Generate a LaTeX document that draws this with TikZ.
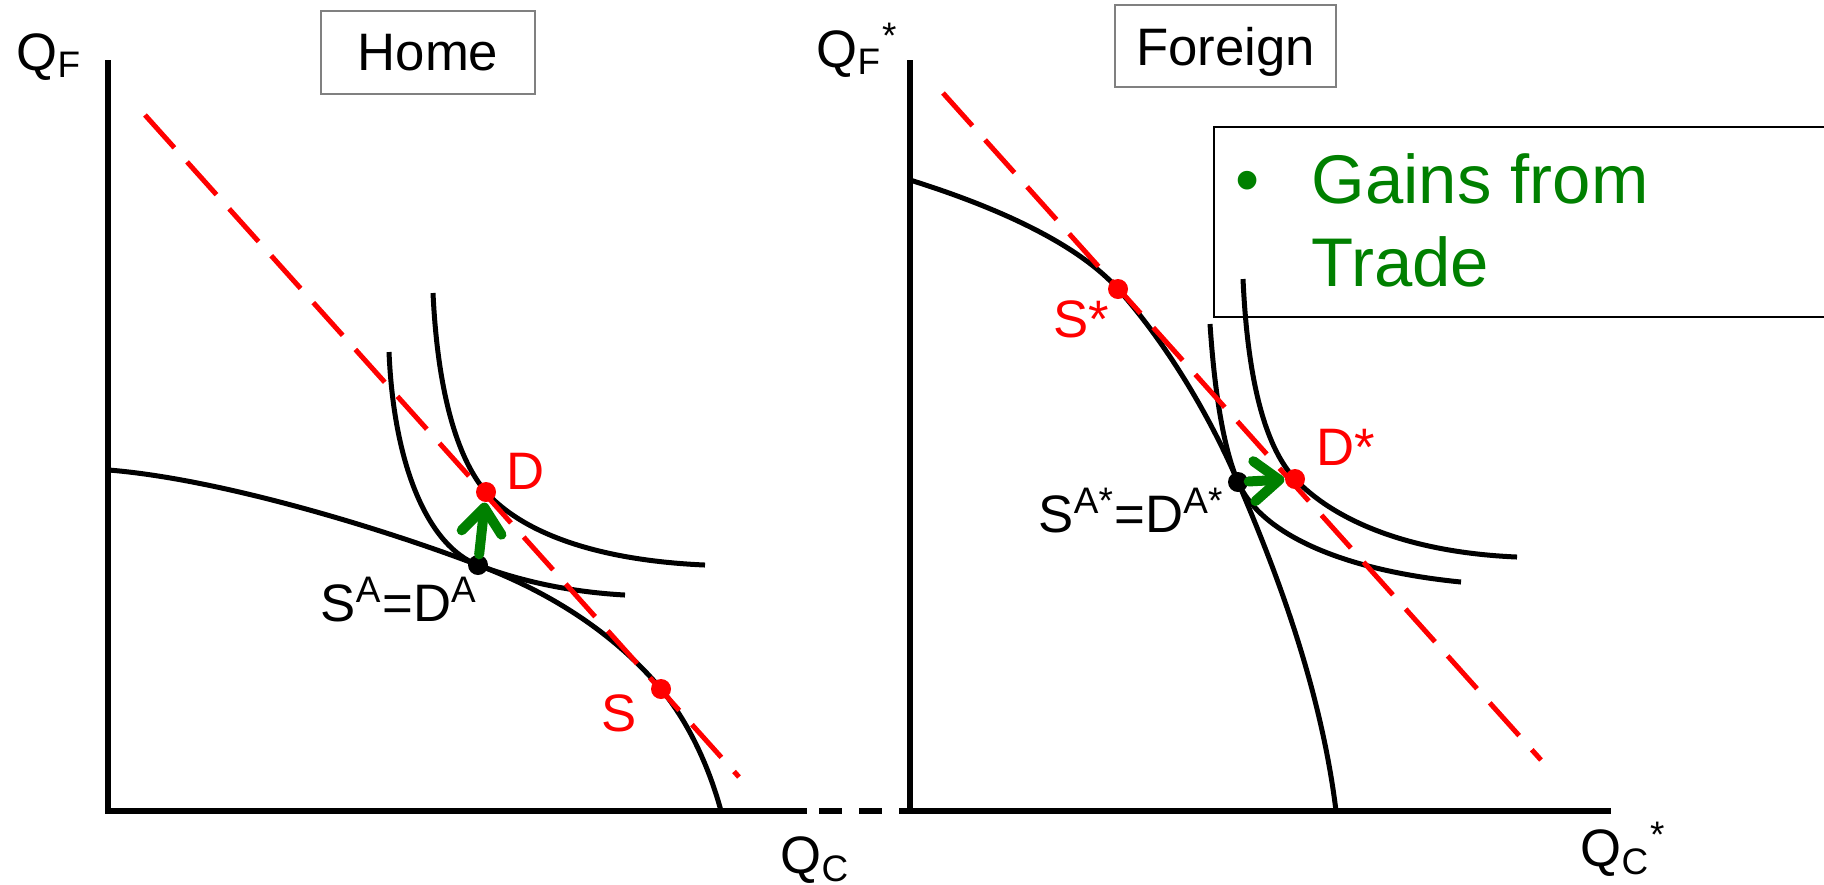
\documentclass[tikz,border=0pt]{standalone}
\usepackage{fontspec}
\setmainfont{Liberation Sans}
\usetikzlibrary{arrows.meta}
\definecolor{gaingreen}{RGB}{0,128,0}
\definecolor{framegray}{RGB}{128,128,128}

\begin{document}
\begin{tikzpicture}[x=0.1mm, y=-0.1mm,
		axis/.style={line width=0.6mm},
		curve/.style={line width=0.5mm},
		tradeline/.style={red, line width=0.5mm, dash pattern=on 4.4mm off 1.9mm},
		gainarrow/.style={gaingreen, line width=1mm, line cap=round,
			-{Straight Barb[length=2.5mm, width=4mm, round]}},
		dot/.style={circle, fill, inner sep=0pt, minimum size=2mm},
		lbl/.style={inner sep=0pt, anchor=base west, font=\fontsize{15}{18}\selectfont},
		gainlbl/.style={lbl, gaingreen, font=\fontsize{19.6}{24}\selectfont},
		panelbox/.style={draw=framegray, line width=0.15mm, inner sep=0pt, text depth=0pt,
			font=\fontsize{15}{18}\selectfont}]
	\useasboundingbox (0,0) rectangle (1824,884);
	
	\draw[axis] (108,60) -- (108,811) -- (807,811);
	\draw[axis, dash pattern=on 2.3mm off 1.7mm, dash phase=2.8mm] (807,811) -- (899,811);
	\draw[axis] (910,60) -- (910,811) (899,811) -- (1611,811);
	
	\coordinate (homeA) at (478,565);
	\coordinate (homeD) at (486,492);
	\coordinate (homeS) at (661,689);
	\coordinate (homeL1) at (145,115);
	\coordinate (homeL2) at (739,777);
	\draw[curve] (109,470) .. controls (230,480) and (400,535) .. (homeA)
		.. controls (560,596) and (620,640) .. (homeS)
		.. controls (690,724) and (710,770) .. (721,811);
	\draw[curve] (389,352) .. controls (394,470) and (430,547) .. (homeA)
		.. controls (520,581) and (570,592) .. (625,595);
	\draw[curve] (433,293) .. controls (438,400) and (460,462) .. (homeD)
		.. controls (520,530) and (590,560) .. (705,565);
	\draw[tradeline] (homeL1) -- (homeL2);
	\node[dot] (homeAdot) at (homeA) {};
	\node[dot, red] (homeDdot) at (homeD) {};
	\node[dot, red] (homeSdot) at (homeS) {};
	\draw[gainarrow] (homeAdot) -- (homeDdot);
	
	\node[panelbox, minimum width=21.4mm, minimum height=8.3mm] (homebox) at (428,52.5) {Home};
	\node[lbl] (homeqf) at (16,70) {Q\textsubscript{F}};
	\node[lbl] (homeqc) at (780,873) {Q\textsubscript{C}};
	\node[lbl, red] (homedlbl) at (506,489) {D};
	\node[lbl, red] (homeslbl) at (601,731) {S};
	\node[lbl] (homealbl) at (320,621) {S\textsuperscript{A}=D\textsuperscript{A}};
	
	\coordinate (forA) at (1238,482);
	\coordinate (forD) at (1295,479);
	\coordinate (forS) at (1118,289);
	\coordinate (forL1) at (943,93);
	\coordinate (forL2) at (1541,760);
	\draw[curve] (910,180) .. controls (990,205) and (1075,241) .. (forS)
		.. controls (1160,336) and (1205,405) .. (forA)
		.. controls (1270,557) and (1320,680) .. (1336,811);
	\draw[curve] (1210,324) .. controls (1215,400) and (1225,452) .. (forA)
		.. controls (1260,533) and (1340,570) .. (1461,582);
	\draw[curve] (1243,279) .. controls (1248,390) and (1268,450) .. (forD)
		.. controls (1330,516) and (1400,552) .. (1517,557);
	\draw[tradeline] (forL1) -- (forL2);
	\node[dot] (forAdot) at (forA) {};
	\node[dot, red] (forDdot) at (forD) {};
	\node[dot, red] (forSdot) at (forS) {};
	\draw[gainarrow] (forAdot) -- (forDdot);
	
	\node[panelbox, minimum width=22.1mm, minimum height=8.2mm] (forbox) at (1225.5,46) {Foreign};
	\node[lbl] (forqf) at (816,67) {Q\textsubscript{F}\textsuperscript{*}};
	\node[lbl] (forqc) at (1580,866) {Q\textsubscript{C}\textsuperscript{*}};
	\node[lbl, red] (fordlbl) at (1316,465) {D*};
	\node[lbl, red] (forslbl) at (1053,337) {S*};
	\node[lbl] (foralbl) at (1038,532) {S\textsuperscript{A*}=D\textsuperscript{A*}};
	
	\draw[line width=0.2mm] (1214,127) rectangle (1840,317);
	\node[gainlbl] (gainbullet) at (1235,203) {•};
	\node[gainlbl] (gainline1) at (1311,203) {Gains from};
	\node[gainlbl] (gainline2) at (1311,286) {Trade};
\end{tikzpicture}
\end{document}
